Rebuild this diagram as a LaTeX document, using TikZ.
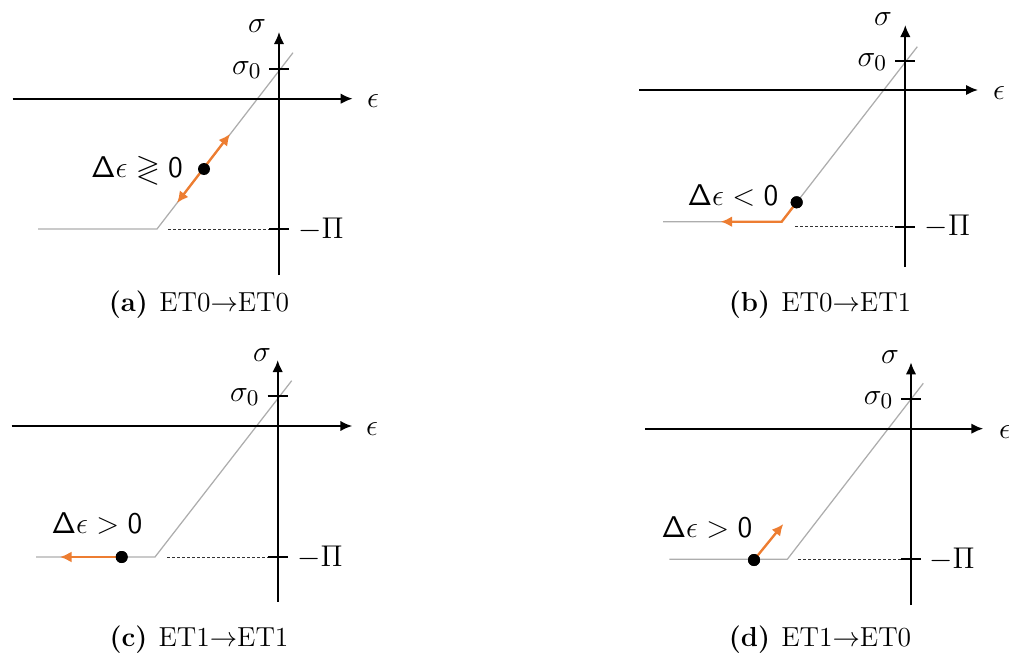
\documentclass[tikz,border=0pt]{standalone}
\usepackage{amsmath,amssymb}
\usetikzlibrary{arrows.meta}
\definecolor{myorange}{RGB}{237,125,49}
\begin{document}
\begin{tikzpicture}[x=0.4pt,y=-0.4pt,
  axis/.style={line width=0.8pt,-{Latex[length=4.8pt,width=4.2pt]}},
  tickline/.style={line width=0.8pt},
  curve/.style={line width=0.5pt,draw=black!32},
  guide/.style={line width=0.35pt,dash pattern=on 1.2pt off 0.8pt,draw=black!80},
  move/.style={line width=0.95pt,draw=myorange,-{Latex[length=4.6pt,width=4.4pt]}},
  dotn/.style={circle,fill=black,inner sep=0pt,minimum size=4.8pt},
  lbl/.style={inner sep=0pt,font=\fontsize{13.2}{16}\selectfont},
  dlbl/.style={inner sep=0pt,font=\fontsize{12.4}{15}\selectfont},
  captxt/.style={inner sep=0pt,anchor=base,font=\fontsize{11}{13}\selectfont}]
\useasboundingbox (0,0) rectangle (1009,660);

% ---------------- panel (a)
\coordinate (aXl) at (12.7,98.7);  \coordinate (aXr) at (352.7,98.7);
\coordinate (aYb) at (279,275);    \coordinate (aYt) at (279,32);
\coordinate (aH0) at (38,229);     \coordinate (aK) at (157,229);  \coordinate (aE) at (293,52.7);
\coordinate (aD0) at (168,229);    \coordinate (aD1) at (279,229);
\coordinate (aS1) at (269,69);     \coordinate (aS2) at (289,69);
\coordinate (aP1) at (269,229);    \coordinate (aP2) at (289,229);
\coordinate (aB) at (177,203);     \coordinate (aT) at (230,134);
\draw[curve] (aH0) -- (aK) -- (aE);
\draw[guide] (aD0) -- (aD1);
\draw[axis] (aXl) -- (aXr);
\draw[axis] (aYb) -- (aYt);
\draw[tickline] (aS1) -- (aS2);
\draw[tickline] (aP1) -- (aP2);
\node[lbl] (aeps) at (373,101) {$\epsilon$};
\node[lbl] (asig) at (257,26) {$\sigma$};
\node[lbl] (asig0) at (247,70) {$\sigma_0$};
\node[lbl] (api) at (321,229) {$-\Pi$};
\draw[move,{Latex[length=4.6pt,width=4.4pt]}-{Latex[length=4.6pt,width=4.4pt]}] (aB) -- (aT);
\node[dotn] (adot) at (204,169) {};
\node[dlbl] (ad) at (137,170) {$\mathsf{\Delta}\epsilon \gtrless \mathsf{0}$};
\node[captxt] (acap) at (199,312) {\textbf{(a)}\hspace{4.5pt}ET0$\rightarrow$ET0};

% ---------------- panel (b)
\coordinate (bXl) at (639,90);     \coordinate (bXr) at (978,90);
\coordinate (bYb) at (905.3,267);  \coordinate (bYt) at (905.3,25);
\coordinate (bH0) at (663,221.7);  \coordinate (bK) at (781.7,221.7); \coordinate (bE) at (917.3,46.7);
\coordinate (bD0) at (795,226.7);  \coordinate (bD1) at (905.3,226.7);
\coordinate (bS1) at (895.3,61);   \coordinate (bS2) at (915.3,61);
\coordinate (bP1) at (895.3,226.7);\coordinate (bP2) at (915.3,226.7);
\coordinate (bL) at (720.7,221.7);
\draw[curve] (bH0) -- (bK) -- (bE);
\draw[guide] (bD0) -- (bD1);
\draw[axis] (bXl) -- (bXr);
\draw[axis] (bYb) -- (bYt);
\draw[tickline] (bS1) -- (bS2);
\draw[tickline] (bP1) -- (bP2);
\node[lbl] (beps) at (999,93) {$\epsilon$};
\node[lbl] (bsig) at (883,19) {$\sigma$};
\node[lbl] (bsig0) at (872.5,62) {$\sigma_0$};
\node[lbl] (bpi) at (947.5,226.7) {$-\Pi$};
\node[dotn] (bdot) at (796.7,202.3) {};
\draw[move] (bdot.center) -- (bK) -- (bL);
\node[dotn] at (bdot) {};
\node[dlbl] (bd) at (733,195) {$\mathsf{\Delta}\epsilon < \mathsf{0}$};
\node[captxt] (bcap) at (820,312) {\textbf{(b)}\hspace{4.5pt}ET0$\rightarrow$ET1};

% ---------------- panel (c)
\coordinate (cXl) at (11.7,426);   \coordinate (cXr) at (352.3,426);
\coordinate (cYb) at (277.7,601.7);\coordinate (cYt) at (277.7,360);
\coordinate (cH0) at (36,557);     \coordinate (cK) at (155,557);  \coordinate (cE) at (291.7,380.7);
\coordinate (cD0) at (167,557);    \coordinate (cD1) at (277.7,557);
\coordinate (cS1) at (267.7,396);  \coordinate (cS2) at (287.7,396);
\coordinate (cP1) at (267.7,557);  \coordinate (cP2) at (287.7,557);
\coordinate (cL) at (60,557);
\draw[curve] (cH0) -- (cK) -- (cE);
\draw[guide] (cD0) -- (cD1);
\draw[axis] (cXl) -- (cXr);
\draw[axis] (cYb) -- (cYt);
\draw[tickline] (cS1) -- (cS2);
\draw[tickline] (cP1) -- (cP2);
\node[lbl] (ceps) at (372,429) {$\epsilon$};
\node[lbl] (csig) at (262,355) {$\sigma$};
\node[lbl] (csig0) at (245,397) {$\sigma_0$};
\node[lbl] (cpi) at (320,557) {$-\Pi$};
\node[dotn] (cdot) at (121.7,557) {};
\draw[move] (cdot.center) -- (cL);
\node[dotn] at (cdot) {};
\node[dlbl] (cd) at (97,523) {$\mathsf{\Delta}\epsilon > \mathsf{0}$};
\node[captxt] (ccap) at (199,646) {\textbf{(c)}\hspace{4.5pt}ET1$\rightarrow$ET1};

% ---------------- panel (d)
\coordinate (dXl) at (645,428.7);  \coordinate (dXr) at (983.3,428.7);
\coordinate (dYb) at (911,605);    \coordinate (dYt) at (911,362.3);
\coordinate (dH0) at (669.3,559.3);\coordinate (dK) at (787.3,559.3); \coordinate (dE) at (923.3,383.3);
\coordinate (dD0) at (798.3,559.3);\coordinate (dD1) at (911,559.3);
\coordinate (dS1) at (901,399.3);  \coordinate (dS2) at (921,399.3);
\coordinate (dP1) at (901,559.3);  \coordinate (dP2) at (921,559.3);
\coordinate (dT) at (783.3,524);
\draw[curve] (dH0) -- (dK) -- (dE);
\draw[guide] (dD0) -- (dD1);
\draw[axis] (dXl) -- (dXr);
\draw[axis] (dYb) -- (dYt);
\draw[tickline] (dS1) -- (dS2);
\draw[tickline] (dP1) -- (dP2);
\node[lbl] (deps) at (1005,432) {$\epsilon$};
\node[lbl] (dsig) at (890,357) {$\sigma$};
\node[lbl] (dsig0) at (878.7,400) {$\sigma_0$};
\node[lbl] (dpi) at (952,559.3) {$-\Pi$};
\node[dotn] (ddot) at (754,560) {};
\draw[move] (ddot.center) -- (dT);
\node[dotn] at (ddot) {};
\node[dlbl] (dd) at (707,527) {$\mathsf{\Delta}\epsilon > \mathsf{0}$};
\node[captxt] (dcap) at (820,646) {\textbf{(d)}\hspace{4.5pt}ET1$\rightarrow$ET0};
\end{tikzpicture}
\end{document}
